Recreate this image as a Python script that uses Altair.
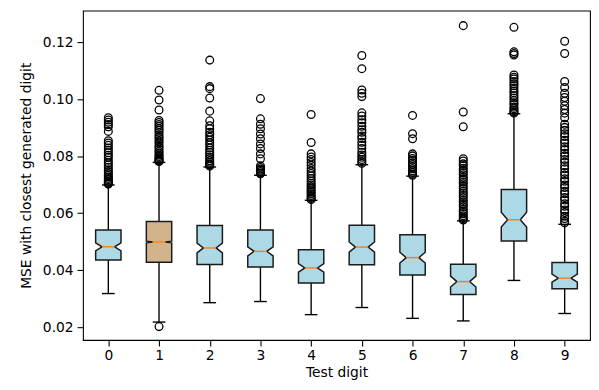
import altair as alt
import pandas as pd

digits = [0, 1, 2, 3, 4, 5, 6, 7, 8, 9]
q1 = [0.0436, 0.0428, 0.0420, 0.0411, 0.0355, 0.0419, 0.0383, 0.0315, 0.0502, 0.0335]
median = [0.0482, 0.0499, 0.0478, 0.0466, 0.0408, 0.0481, 0.0444, 0.0360, 0.0577, 0.0372]
q3 = [0.0541, 0.0571, 0.0557, 0.0541, 0.0472, 0.0558, 0.0524, 0.0421, 0.0683, 0.0427]
whisk_lo = [0.0318, 0.0218, 0.0286, 0.0290, 0.0244, 0.0269, 0.0231, 0.0222, 0.0364, 0.0248]
whisk_hi = [0.0699, 0.0778, 0.0762, 0.0733, 0.0645, 0.0770, 0.0730, 0.0573, 0.0949, 0.0561]
notch_half = [0.0014, 0.0003, 0.0017, 0.0016, 0.0015, 0.0018, 0.0019, 0.0019, 0.0026, 0.0014]
box_colors = ["#add8e6", "#d2b48c", "#add8e6", "#add8e6", "#add8e6",
              "#add8e6", "#add8e6", "#add8e6", "#add8e6", "#add8e6"]

outliers = [
    [0.0935, 0.0927, 0.0919, 0.0911, 0.0903, 0.0887, 0.0854, 0.0846, 0.0838, 0.0829,
     0.0821, 0.0812, 0.0803, 0.0796, 0.0786, 0.0777, 0.0769, 0.0761, 0.0752, 0.0746,
     0.0739, 0.0733, 0.0727, 0.0722, 0.0717, 0.0712, 0.0708, 0.0705, 0.0702],
    [0.1031, 0.0997, 0.0962, 0.0925, 0.0918, 0.0911, 0.0905, 0.0897, 0.0891, 0.0883,
     0.0874, 0.0867, 0.0861, 0.0853, 0.0846, 0.0837, 0.0831, 0.0824, 0.0817, 0.0811,
     0.0804, 0.0799, 0.0794, 0.0789, 0.0786, 0.0783, 0.0781, 0.0202],
    [0.1137, 0.1044, 0.1037, 0.1004, 0.0958, 0.0924, 0.0907, 0.0896, 0.0884, 0.0875,
     0.0866, 0.0857, 0.0847, 0.0839, 0.0829, 0.0821, 0.0813, 0.0805, 0.0797, 0.0791,
     0.0784, 0.0779, 0.0773, 0.0769, 0.0765],
    [0.1002, 0.0931, 0.0912, 0.0896, 0.0878, 0.0861, 0.0843, 0.0827, 0.0808, 0.0791,
     0.0766, 0.0760, 0.0755, 0.0751, 0.0746, 0.0741, 0.0738],
    [0.0946, 0.0848, 0.0808, 0.0797, 0.0788, 0.0778, 0.0768, 0.0757, 0.0748, 0.0739,
     0.0731, 0.0722, 0.0713, 0.0705, 0.0699, 0.0692, 0.0686, 0.0679, 0.0674, 0.0668,
     0.0662, 0.0657, 0.0652, 0.0648],
    [0.1153, 0.1107, 0.1032, 0.1021, 0.1009, 0.0952, 0.0941, 0.0928, 0.0917, 0.0905,
     0.0893, 0.0884, 0.0871, 0.0862, 0.0849, 0.0838, 0.0827, 0.0814, 0.0804, 0.0796,
     0.0788, 0.0781, 0.0775],
    [0.0943, 0.0879, 0.0861, 0.0808, 0.0801, 0.0792, 0.0786, 0.0777, 0.0771, 0.0763,
     0.0756, 0.0749, 0.0743, 0.0737, 0.0733],
    [0.1258, 0.0955, 0.0903, 0.0791, 0.0783, 0.0773, 0.0767, 0.0757, 0.0751, 0.0742,
     0.0735, 0.0725, 0.0719, 0.0709, 0.0703, 0.0694, 0.0687, 0.0677, 0.0671, 0.0662,
     0.0655, 0.0645, 0.0639, 0.0630, 0.0623, 0.0613, 0.0607, 0.0598, 0.0591, 0.0585,
     0.0580, 0.0576],
    [0.1252, 0.1166, 0.1160, 0.1155, 0.1085, 0.1077, 0.1071, 0.1062, 0.1054, 0.1047,
     0.1038, 0.1029, 0.1022, 0.1012, 0.1004, 0.0995, 0.0987, 0.0981, 0.0972, 0.0966,
     0.0960, 0.0955, 0.0951],
    [0.1203, 0.1160, 0.1062, 0.1041, 0.1021, 0.1006, 0.0993, 0.0977, 0.0964, 0.0951,
     0.0935, 0.0912, 0.0901, 0.0891, 0.0879, 0.0869, 0.0856, 0.0846, 0.0833, 0.0823,
     0.0810, 0.0801, 0.0788, 0.0779, 0.0766, 0.0756, 0.0743, 0.0734, 0.0721, 0.0712,
     0.0699, 0.0690, 0.0677, 0.0668, 0.0655, 0.0646, 0.0633, 0.0624, 0.0611, 0.0602,
     0.0589, 0.0581, 0.0572, 0.0566],
]

BOX_HALF = 0.25
CAP_HALF = 0.125

# Box polygons (notched) built from the stats
poly_rows = []
for i, d in enumerate(digits):
    pts = [
        (q1[i], d - BOX_HALF, d + BOX_HALF),
        (median[i] - notch_half[i], d - BOX_HALF, d + BOX_HALF),
        (median[i], d - CAP_HALF, d + CAP_HALF),
        (median[i] + notch_half[i], d - BOX_HALF, d + BOX_HALF),
        (q3[i], d - BOX_HALF, d + BOX_HALF),
    ]
    for yv, xl, xr in pts:
        poly_rows.append({"digit": str(d), "y": yv, "xl": xl, "xr": xr})
poly = pd.DataFrame(poly_rows)

stats = pd.DataFrame({
    "digit": digits,
    "q1": q1, "median": median, "q3": q3,
    "lo": whisk_lo, "hi": whisk_hi,
})
stats["cl"] = stats["digit"] - CAP_HALF
stats["cr"] = stats["digit"] + CAP_HALF

out_rows = []
for i, d in enumerate(digits):
    for v in outliers[i]:
        out_rows.append({"digit": d, "value": v})
outs = pd.DataFrame(out_rows)

x_scale = alt.Scale(domain=[-0.5, 9.5], nice=False, zero=False)
y_scale = alt.Scale(domain=[0.0155, 0.1311], nice=False, zero=False)

x_axis = alt.Axis(title="Test digit", values=digits, format="d", grid=False,
                  domain=False, tickSize=6, tickWidth=1.1, tickColor="black",
                  labelPadding=3, labelFontSize=14, labelColor="black",
                  titleFontSize=14, titleColor="black", titleFontWeight="normal",
                  titlePadding=3, labelFont="DejaVu Sans", titleFont="DejaVu Sans")
y_axis = alt.Axis(title="MSE with closest generated digit",
                  values=[0.02, 0.04, 0.06, 0.08, 0.10, 0.12], format=".2f",
                  grid=False, domain=False, tickSize=6, tickWidth=1.1, tickColor="black",
                  labelPadding=4, labelFontSize=14, labelColor="black",
                  titleFontSize=14, titleColor="black", titleFontWeight="normal",
                  titlePadding=9, labelFont="DejaVu Sans", titleFont="DejaVu Sans")

base = alt.Chart(stats)

whisk_up = base.mark_rule(color="black", strokeWidth=1.4).encode(
    x=alt.X("digit:Q", scale=x_scale, axis=x_axis),
    y=alt.Y("q3:Q", scale=y_scale, axis=y_axis),
    y2="hi:Q",
)
whisk_dn = base.mark_rule(color="black", strokeWidth=1.4).encode(
    x=alt.X("digit:Q", scale=x_scale),
    y=alt.Y("lo:Q", scale=y_scale),
    y2="q1:Q",
)
cap_hi = base.mark_rule(color="black", strokeWidth=1.4).encode(
    x=alt.X("cl:Q", scale=x_scale), x2="cr:Q",
    y=alt.Y("hi:Q", scale=y_scale),
)
cap_lo = base.mark_rule(color="black", strokeWidth=1.4).encode(
    x=alt.X("cl:Q", scale=x_scale), x2="cr:Q",
    y=alt.Y("lo:Q", scale=y_scale),
)

boxes = alt.Chart(poly).mark_area(
    orient="horizontal", stroke="#1a1a1a", strokeWidth=1.5, opacity=1, fillOpacity=1
).encode(
    y=alt.Y("y:Q", scale=y_scale, stack=None),
    x=alt.X("xl:Q", scale=x_scale, stack=None),
    x2="xr:Q",
    detail="digit:N",
    fill=alt.Fill("digit:N", scale=alt.Scale(domain=[str(d) for d in digits],
                                             range=box_colors), legend=None),
)

med = base.mark_rule(color="#ff7f0e", strokeWidth=1.4).encode(
    x=alt.X("cl:Q", scale=x_scale), x2="cr:Q",
    y=alt.Y("median:Q", scale=y_scale),
)

fliers = alt.Chart(outs).mark_point(
    shape="circle", filled=False, size=62, stroke="black", strokeWidth=1.3, opacity=1
).encode(
    x=alt.X("digit:Q", scale=x_scale),
    y=alt.Y("value:Q", scale=y_scale),
)

chart = alt.layer(whisk_up, whisk_dn, cap_hi, cap_lo, boxes, med, fliers).properties(
    width=514, height=334,
    autosize=alt.AutoSizeParams(type="none"),
    padding={"left": 76, "top": 0, "right": 1, "bottom": 40},
    background="white",
).configure_view(stroke="black", strokeWidth=1.1)

chart.save("out.html", embed_options={"renderer": "svg", "actions": False})
